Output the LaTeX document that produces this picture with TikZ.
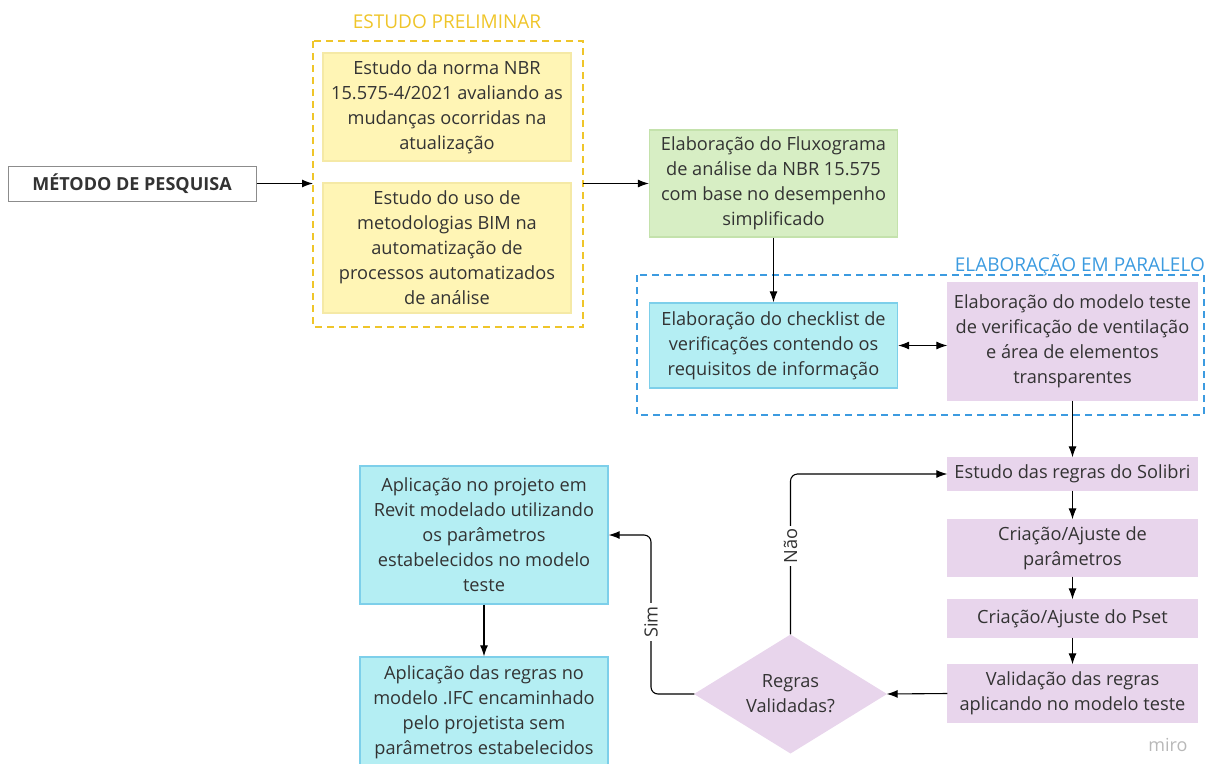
\documentclass[tikz,border=0pt]{standalone}
\usepackage{fontspec}
\setmainfont{Open Sans}
\usetikzlibrary{shapes.geometric,arrows.meta}
\definecolor{ylfill}{HTML}{FFF5B5}
\definecolor{ylborder}{HTML}{F5E9A6}
\definecolor{yldash}{HTML}{EFC52A}
\definecolor{grfill}{HTML}{D7EEC4}
\definecolor{grborder}{HTML}{C4E2AC}
\definecolor{cyfill}{HTML}{B4EEF3}
\definecolor{cyborder}{HTML}{7DCFEA}
\definecolor{pufill}{HTML}{E8D5EC}
\definecolor{bldash}{HTML}{3C9BE0}
\definecolor{txt}{HTML}{333333}
\tikzset{
  base/.style={align=center, inner sep=0pt, text=txt, font=\fontsize{18.2}{25}\selectfont, line width=1.3pt},
  ybox/.style={base, fill=ylfill, draw=ylborder, minimum width=248pt},
  gbox/.style={base, fill=grfill, draw=grborder, minimum width=248pt},
  cbox/.style={base, fill=cyfill, draw=cyborder, minimum width=248pt},
  pbox/.style={base, fill=pufill, draw=pufill, minimum width=249pt},
  arr/.style={-{Latex[length=11pt,width=8pt]}, line width=1.1pt, black},
  lbl/.style={fill=white, inner sep=3pt, text=txt, font=\fontsize{18.2}{22}\selectfont, rotate=90},
  ttl/.style={font=\fontsize{19}{22}\selectfont, inner sep=0pt}
}
\begin{document}
\begin{tikzpicture}[x=1pt,y=-1pt]
\useasboundingbox (0,0) rectangle (1207,763);
% containers
\draw[yldash, line width=1.6pt, dash pattern=on 7pt off 5pt] (313,41) rectangle (583,327);
\node[ttl, text=yldash] (t1) at (447,22) {ESTUDO PRELIMINAR};
\draw[bldash, line width=1.6pt, dash pattern=on 7pt off 5pt] (637,275) rectangle (1204,415);
\node[ttl, text=bldash, anchor=east] (t2) at (1205,265) {ELABORAÇÃO EM PARALELO};
% method
\node[base, draw=black!45, line width=1pt, fill=white, minimum width=248pt, minimum height=35pt, font=\fontsize{18}{22}\selectfont\bfseries] (met) at (132,183.5) {MÉTODO DE PESQUISA};
\coordinate (ylin) at (313,183.5);
\coordinate (ylout) at (583,183.5);
\node[ybox, minimum height=108pt] (y1) at (447,107) {Estudo da norma NBR\\15.575-4/2021 avaliando as\\mudanças ocorridas na\\atualização};
\node[ybox, minimum height=130pt] (y2) at (447,248) {Estudo do uso de\\metodologias BIM na\\automatização de\\processos automatizados\\de análise};
\node[gbox, minimum height=107pt] (g1) at (773.5,183.5) {Elaboração do Fluxograma\\de análise da NBR 15.575\\com base no desempenho\\simplificado};
\node[cbox, minimum height=85pt] (c1) at (773.5,345.5) {Elaboração do checklist de\\verificações contendo os\\requisitos de informação};
\node[pbox, minimum height=117pt] (p1) at (1072.5,341.5) {Elaboração do modelo teste\\de verificação de ventilação\\e área de elementos\\transparentes};
\node[pbox, minimum height=32pt] (p2) at (1072.5,474) {Estudo das regras do Solibri};
\node[pbox, minimum height=56pt] (p3) at (1072.5,548) {Criação/Ajuste de\\parâmetros};
\node[pbox, minimum height=37pt] (p4) at (1072.5,618.5) {Criação/Ajuste do Pset};
\node[pbox, minimum height=57pt] (p5) at (1072.5,693.5) {Validação das regras\\aplicando no modelo teste};
\node[diamond, shape aspect=1.62, base, fill=pufill, draw=pufill, minimum width=191pt, minimum height=118pt] (dia) at (790.5,694) {Regras\\Validadas?};
\node[cbox, minimum height=138pt] (a1) at (484,535) {Aplicação no projeto em\\Revit modelado utilizando\\os parâmetros\\estabelecidos no modelo\\teste};
\node[cbox, minimum height=110pt] (a2) at (484,712) {Aplicação das regras no\\modelo .IFC encaminhado\\pelo projetista sem\\parâmetros estabelecidos};
% connectors
\draw[arr] (met.east) -- (ylin);
\draw[arr] (ylout) -- (g1.west);
\draw[arr] (g1.south) -- (c1.north);
\draw[{Latex[length=11pt,width=8pt]}-{Latex[length=11pt,width=8pt]}, line width=1.1pt] (c1.east) -- (c1.east -| p1.west);
\draw[arr] (p1.south) -- (p2.north);
\draw[arr] (p2.south) -- (p3.north);
\draw[arr] (p3.south) -- (p4.north);
\draw[arr] (p4.south) -- (p5.north);
\draw[arr] (p5.west) -- (dia.east);
\draw[arr, rounded corners=7pt] (dia.north) -- (dia.north |- p2.west) -- (p2.west);
\node[lbl] (nao) at (790.5,546) {Não};
\coordinate (simx) at (651,694);
\draw[arr, rounded corners=7pt] (dia.west) -- (simx) -- (simx |- a1.east) -- (a1.east);
\node[lbl] (sim) at (651,622) {Sim};
\draw[arr] (a1.south) -- (a2.north);
\node[font=\fontsize{18}{20}\selectfont, text=black!28, inner sep=0pt] (miro) at (1168,745) {miro};
\end{tikzpicture}
\end{document}
